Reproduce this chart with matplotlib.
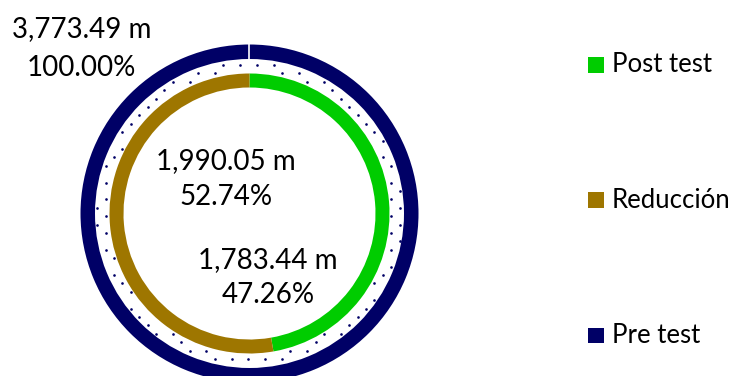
import numpy as np
import matplotlib.pyplot as plt
from matplotlib.patches import Rectangle

plt.rcParams['font.family'] = ['Lato', 'DejaVu Sans']

# Distance values (m)
series = ['Post test', 'Reducción', 'Pre test']
pre_test = 3773.49
post_test = 1783.44
reduccion = 1990.05

colors = {'Post test': '#00CC00', 'Reducción': '#9E7600', 'Pre test': '#000066'}

W, H = 737, 376
fig = plt.figure(figsize=(W / 100, H / 100), dpi=100)
ax = fig.add_axes([0, 0, 1, 1])

# work in pixel units, y measured from the top
def py(y):
    return H - y

cx, cy = 249.5, py(213.5)
r_out, w_out = 169, 14.5
r_in, w_in = 140, 14

# outer ring: pre test total
ax.pie([pre_test], radius=r_out, center=(cx, cy), startangle=90, counterclock=False,
       colors=[colors['Pre test']], wedgeprops=dict(width=w_out, linewidth=0))
ax.plot([cx, cx], [cy + r_out - w_out - 0.5, cy + r_out + 0.5], color='white', lw=1.2)

# inner ring: post test + reduction
ax.pie([post_test, reduccion], radius=r_in, center=(cx, cy), startangle=90, counterclock=False,
       colors=[colors['Post test'], colors['Reducción']], wedgeprops=dict(width=w_in, linewidth=0))

# dotted band between the rings
step = 16.8
for j, yy in enumerate(np.arange(65 - 8.4 * 40, 65 + 8.4 * 40, 8.4)):
    xs = np.arange(240 - step * 15, 240 + step * 15, step) + (step / 2 if j % 2 else 0)
    rr = np.hypot(xs - cx, py(yy) - cy)
    keep = (rr > r_in + 1.5) & (rr < r_out - w_out - 1.5)
    if keep.any():
        ax.scatter(xs[keep], np.full(keep.sum(), py(yy)), s=3.6, color=colors['Pre test'],
                   linewidths=0)

# value labels
labels = [
    (pre_test, pre_test, 81.5, 37, 76),
    (reduccion, pre_test, 226, 169, 205),
    (post_test, pre_test, 268, 268, 303),
]
for val, total, x, y1, y2 in labels:
    ax.text(x, py(y1), f'{val:,.2f} m', ha='center', va='baseline', fontsize=20)
    ax.text(x, py(y2), f'{val / total:.2%}', ha='center', va='baseline', fontsize=20)

# legend
legend_pos = {'Post test': 72.5, 'Reducción': 207.5, 'Pre test': 343}
for name in series:
    base = legend_pos[name]
    ax.add_patch(Rectangle((588, py(base)), 16, 15.5, color=colors[name], lw=0))
    ax.text(612, py(base), name, ha='left', va='baseline', fontsize=18.5)

ax.set_xlim(0, W)
ax.set_ylim(0, H)
ax.set_aspect('auto')
ax.axis('off')

fig.savefig('out.png', dpi=100)
